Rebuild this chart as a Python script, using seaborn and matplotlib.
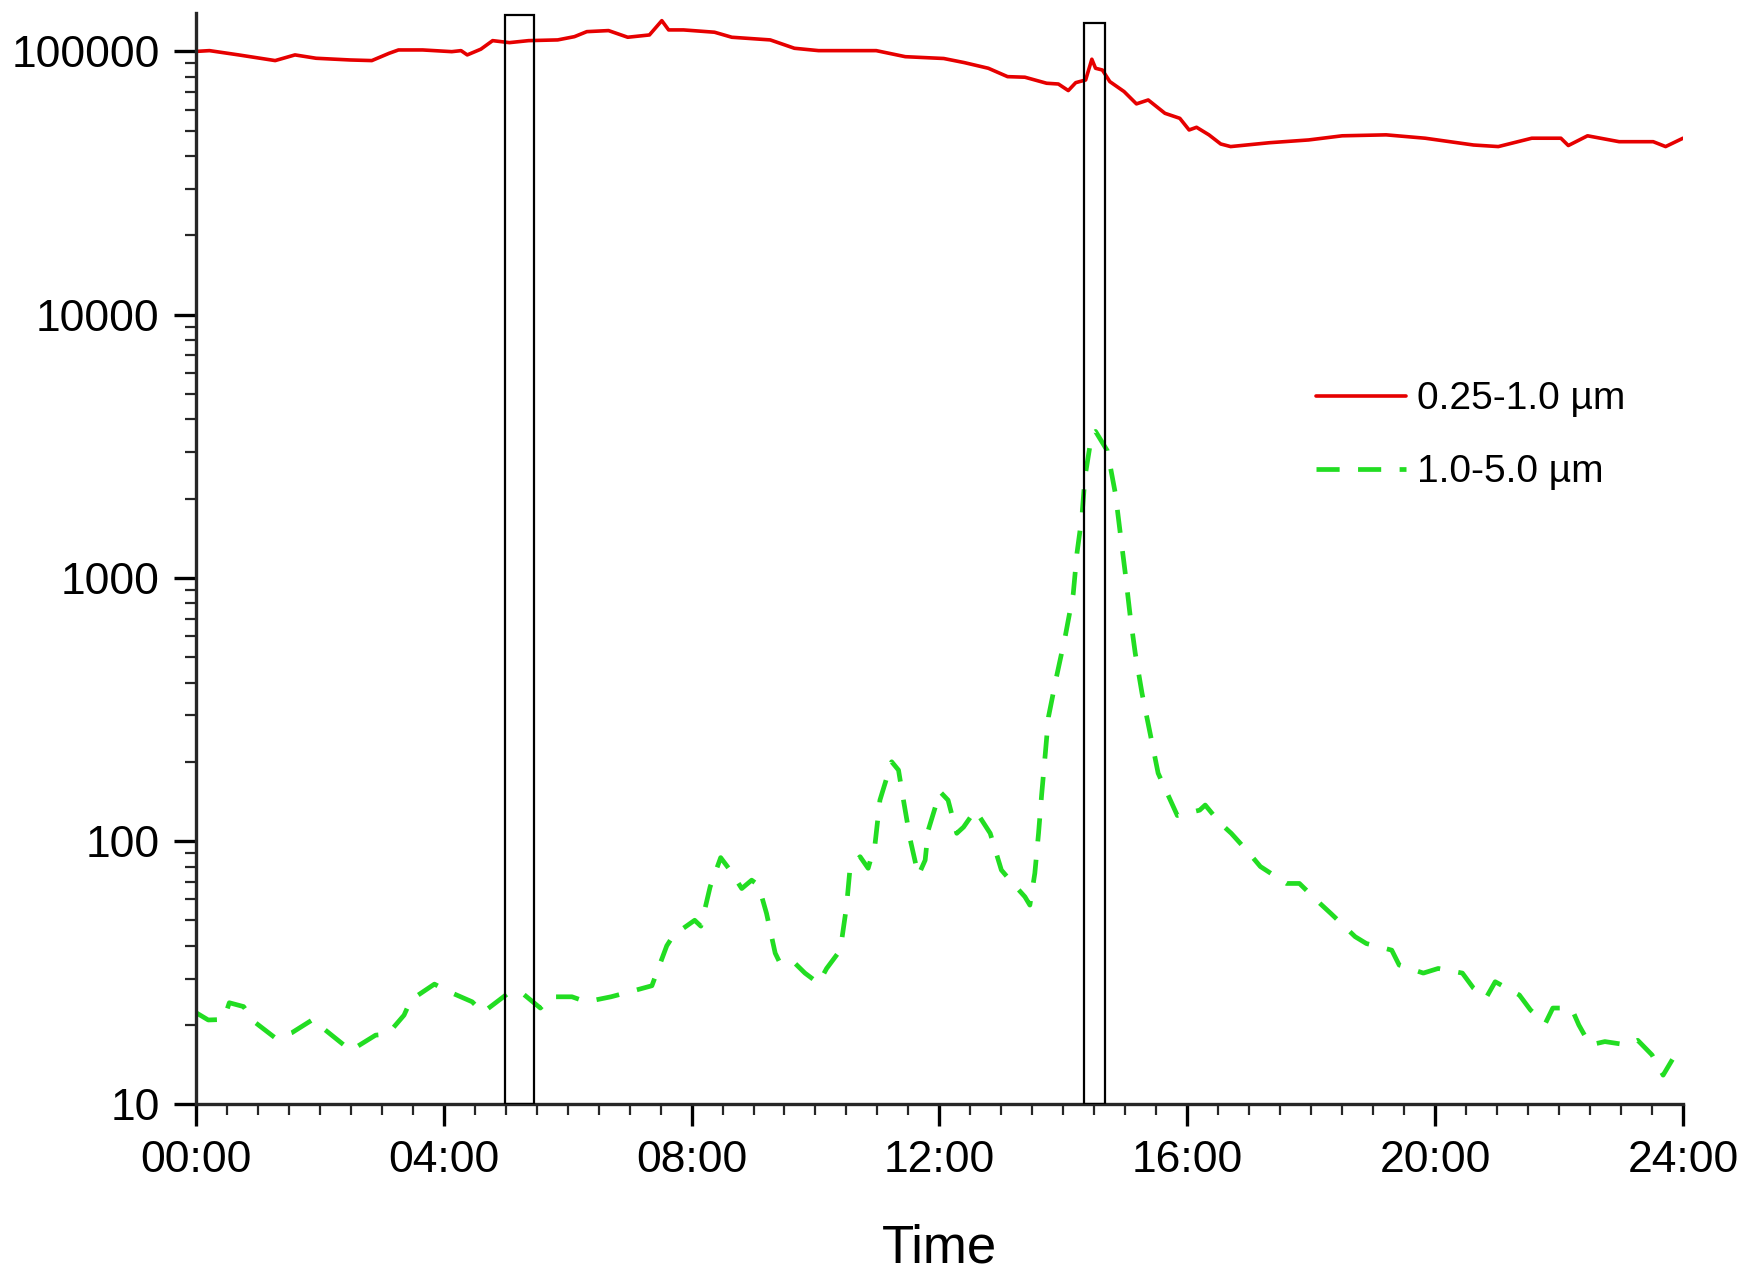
import matplotlib
matplotlib.use('Agg')
import matplotlib.pyplot as plt
import matplotlib.ticker as mticker
import seaborn as sns

# Concentração de partículas ao longo do dia
red_t = [0, 0.22, 0.69, 1.28, 1.6, 1.94, 2.49, 2.84, 3.12, 3.27,
         3.66, 4.13, 4.28, 4.38, 4.6, 4.79, 5.06, 5.37, 5.84, 6.11,
         6.31, 6.66, 6.97, 7.32, 7.52, 7.63, 7.87, 8.37, 8.65, 9.27,
         9.66, 10.05, 10.98, 11.45, 12.07, 12.4, 12.79, 13.1, 13.38, 13.73,
         13.92, 14.08, 14.2, 14.36, 14.46, 14.52, 14.63, 14.75, 14.98, 15.18,
         15.37, 15.64, 15.88, 16.03, 16.15, 16.35, 16.54, 16.7, 17.33, 17.96,
         18.5, 19.21, 19.84, 20.62, 21.02, 21.56, 22.03, 22.15, 22.46, 22.97,
         23.52, 23.72, 24.0]
red_v = [100000, 100700, 97000, 92300, 97000, 94200, 92800, 92300, 98400, 101300,
         101300, 99800, 100700, 97000, 102000, 109900, 108000, 109900, 110600, 113800,
         118900, 120000, 113200, 115500, 130900, 120700, 120700, 118300, 113200, 110600,
         102800, 100700, 100700, 95500, 94000, 90700, 86300, 80200, 79800, 75700,
         75200, 71000, 76100, 77900, 93400, 86300, 85000, 76800, 70400, 63200,
         65400, 58200, 55700, 50300, 51500, 48200, 44500, 43500, 45000, 46100,
         47800, 48200, 46800, 44100, 43500, 46800, 46800, 43900, 47800, 45400,
         45400, 43500, 46800]

green_t = [0, 0.2, 0.45, 0.54, 0.77, 0.94, 1.29, 1.55, 1.89, 2.07,
           2.5, 2.9, 3.1, 3.36, 3.47, 3.85, 4.08, 4.46, 4.63, 5.04,
           5.27, 5.56, 5.73, 6.07, 6.3, 6.7, 6.94, 7.36, 7.44, 7.6,
           7.71, 8.05, 8.15, 8.3, 8.47, 8.62, 8.81, 8.97, 9.08, 9.21,
           9.35, 9.43, 9.67, 9.83, 10.05, 10.18, 10.4, 10.5, 10.56, 10.72,
           10.85, 10.96, 11.04, 11.23, 11.34, 11.42, 11.53, 11.66, 11.77, 11.82,
           12.01, 12.14, 12.28, 12.39, 12.58, 12.82, 13.0, 13.14, 13.38, 13.46,
           13.54, 13.6, 13.65, 13.71, 13.76, 13.89, 14.03, 14.16, 14.22, 14.3,
           14.35, 14.46, 14.52, 14.71, 14.84, 14.92, 15.0, 15.08, 15.16, 15.27,
           15.4, 15.53, 15.84, 16.2, 16.29, 16.53, 16.71, 16.98, 17.18, 17.6,
           17.81, 18.14, 18.32, 18.71, 18.89, 19.3, 19.42, 19.81, 20.05, 20.44,
           20.62, 20.82, 20.97, 21.36, 21.54, 21.78, 21.9, 22.2, 22.32, 22.5,
           22.74, 23.1, 23.27, 23.5, 23.68, 23.83]
green_v = [22.3, 20.9, 21, 24.3, 23.5, 20.6, 17.8, 18.7, 21.0, 19.3,
           16, 18.3, 18.5, 21.8, 24.9, 28.6, 26.8, 24.5, 22.3, 26.4,
           26.4, 23.2, 25.6, 25.6, 24.5, 25.6, 26.5, 28.2, 31.7, 40,
           43.9, 50, 47.5, 67, 86.5, 77.6, 66, 71, 68, 53.1,
           37.5, 34.3, 34.3, 31.5, 28.8, 32.8, 38.5, 56.2, 79.9, 87.2,
           78.8, 96.8, 143, 200, 186, 143, 101, 74, 84.6, 110,
           154, 143, 107, 113, 131, 107, 77.6, 71, 61.4, 57.1,
           75.4, 107, 150, 216, 296, 421, 598, 870, 1240, 1710,
           2420, 3520, 3600, 3040, 2090, 1470, 1040, 713, 518, 364,
           257, 181, 125, 131, 137, 117, 107, 91, 80, 69,
           69, 58, 53, 43.3, 40.8, 38.5, 33.8, 31.5, 32.8, 31.5,
           27.6, 25.3, 29.2, 26, 22.8, 20.3, 23.2, 23.2, 20, 16.8,
           17.3, 16.8, 17.5, 15.4, 12.9, 14.8]

# janelas marcadas (caixas)
box_start = [4.99, 14.34]
box_end = [5.46, 14.67]
box_top = [137000, 128700]

hour_ticks = [0, 4, 8, 12, 16, 20, 24]
hour_labels = ['00:00', '04:00', '08:00', '12:00', '16:00', '20:00', '24:00']
y_ticks = [10, 100, 1000, 10000, 100000]

sns.set_style('ticks')
plt.rcParams['font.family'] = ['Liberation Sans', 'DejaVu Sans']
plt.rcParams['text.color'] = 'black'
plt.rcParams['axes.labelcolor'] = 'black'

fig, ax = plt.subplots(figsize=(17.44, 12.71), dpi=100)
fig.subplots_adjust(left=0.1123, right=0.965, bottom=0.1312, top=0.9898)

sns.lineplot(x=red_t, y=red_v, ax=ax, color='#e60000', linewidth=2.6,
             label='0.25-1.0 µm')
sns.lineplot(x=green_t, y=green_v, ax=ax, color='#22dd22', linewidth=3.4,
             linestyle=(0, (4.9, 3.9)), label='1.0-5.0 µm')

widths = [e - s for s, e in zip(box_start, box_end)]
heights = [t - 10 for t in box_top]
ax.bar(box_start, heights, width=widths, bottom=10, align='edge',
       fill=False, edgecolor='black', linewidth=1.6, zorder=3)

ax.set_yscale('log')
ax.set_ylim(10, 140000)
ax.set_xlim(0, 24)
ax.set_yticks(y_ticks)
ax.yaxis.set_major_formatter(mticker.FuncFormatter(lambda v, p: f'{int(round(v))}'))
ax.yaxis.set_minor_locator(mticker.LogLocator(base=10, subs=range(2, 10)))
ax.yaxis.set_minor_formatter(mticker.NullFormatter())
ax.set_xticks(hour_ticks)
ax.set_xticklabels(hour_labels)
ax.xaxis.set_minor_locator(mticker.MultipleLocator(0.5))

sns.despine(ax=ax)
for side in ['left', 'bottom']:
    ax.spines[side].set_linewidth(2.4)
ax.tick_params(axis='both', which='major', labelsize=32, length=16, width=2.4,
               direction='out', pad=10, colors='black')
ax.tick_params(axis='both', which='minor', length=8, width=1.6, direction='out')

ax.set_xlabel('Time', fontsize=38, labelpad=30)
ax.set_ylabel('')

leg = ax.legend(loc='center left', bbox_to_anchor=(0.7436, 0.657),
                bbox_transform=fig.transFigure, frameon=False, fontsize=28,
                handlelength=2.3, handletextpad=0.3, labelspacing=0.95,
                borderpad=0)

fig.savefig('out.png', dpi=100)
